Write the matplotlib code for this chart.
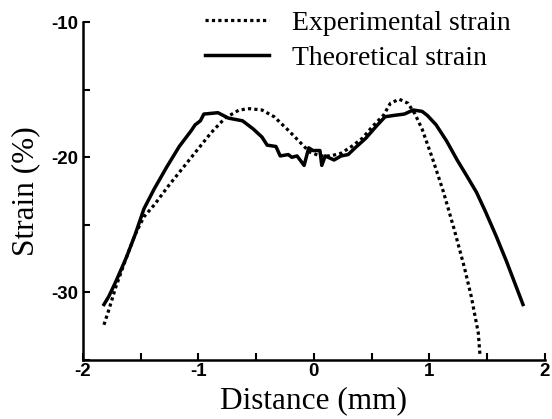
import matplotlib
matplotlib.use("Agg")
import matplotlib.pyplot as plt
from matplotlib.ticker import MultipleLocator

plt.rcParams["axes.unicode_minus"] = False

# theoretical strain (solid)
x_theo = [-1.817, -1.775, -1.714, -1.622, -1.546, -1.47, -1.379, -1.272, -1.165, -1.059,
          -1.028, -0.982, -0.952, -0.83, -0.739, -0.617, -0.525, -0.449, -0.404, -0.328,
          -0.291, -0.221, -0.19, -0.145, -0.084, -0.044, -0.008, 0.053, 0.069, 0.099,
          0.175, 0.236, 0.297, 0.358, 0.449, 0.541, 0.617, 0.693, 0.784, 0.861,
          0.937, 0.983, 1.059, 1.15, 1.241, 1.333, 1.409, 1.485, 1.577, 1.668,
          1.744, 1.811]
y_theo = [-30.9, -30.3, -29.2, -27.4, -25.7, -23.8, -22.3, -20.7, -19.2, -18.0,
          -17.6, -17.3, -16.8, -16.7, -17.1, -17.3, -17.9, -18.5, -19.1, -19.2,
          -19.9, -19.8, -20.0, -19.9, -20.6, -19.3, -19.5, -19.5, -20.6, -19.9,
          -20.2, -19.9, -19.8, -19.3, -18.6, -17.7, -17.0, -16.9, -16.8, -16.5,
          -16.6, -16.9, -17.6, -18.8, -20.2, -21.5, -22.6, -24.0, -25.8, -27.7,
          -29.4, -30.9]

# experimental strain (dotted)
x_exp = [-1.817, -1.775, -1.714, -1.622, -1.546, -1.47, -1.379, -1.257, -1.135, -1.013,
         -0.891, -0.769, -0.647, -0.556, -0.449, -0.343, -0.221, -0.129, -0.038, 0.053,
         0.145, 0.236, 0.327, 0.419, 0.51, 0.602, 0.663, 0.739, 0.815, 0.876,
         0.937, 1.028, 1.12, 1.211, 1.302, 1.363, 1.424, 1.439]
y_exp = [-32.4, -31.3, -29.6, -27.4, -25.7, -24.4, -23.5, -22.1, -20.8, -19.5,
         -18.2, -17.1, -16.5, -16.4, -16.5, -17.0, -18.0, -18.8, -19.6, -19.9,
         -19.9, -19.7, -19.2, -18.6, -17.7, -16.9, -16.0, -15.7, -16.0, -16.8,
         -17.9, -20.1, -22.5, -25.2, -28.1, -30.3, -33.0, -34.7]

xticks = [-2, -1, 0, 1, 2]
xtick_labels = ["-2", "-1", "0", "1", "2"]
yticks = [-10, -20, -30]
ytick_labels = ["-10", "-20", "-30"]

fig = plt.figure(figsize=(5.52, 4.19), dpi=100)
ax = fig.add_axes([0.150, 0.141, 0.837, 0.806])

ax.plot(x_exp, y_exp, color="black", linestyle=(0, (1, 1)), linewidth=2.3,
        dash_capstyle="butt", label="Experimental strain")
ax.plot(x_theo, y_theo, color="black", linestyle="-", linewidth=2.5,
        label="Theoretical strain")

ax.set_xlim(-2, 2)
ax.set_ylim(-35, -10)
tick_font = dict(fontfamily="Liberation Sans", fontweight="bold", fontsize=13.5)
ax.set_xticks(xticks, xtick_labels, **tick_font)
ax.set_yticks(yticks, ytick_labels, **tick_font)
ax.xaxis.set_minor_locator(MultipleLocator(0.5))
ax.yaxis.set_minor_locator(MultipleLocator(5))
ax.tick_params(which="both", direction="in", width=1.5, length=5)
ax.tick_params(axis="x", pad=2)
ax.tick_params(axis="y", pad=3)

ax.spines["top"].set_visible(False)
ax.spines["right"].set_visible(False)
ax.spines["left"].set_linewidth(1.8)
ax.spines["bottom"].set_linewidth(1.8)

ax.set_xlabel("Distance (mm)", fontfamily="Liberation Serif", fontsize=22.5, labelpad=5)
ax.set_ylabel("Strain (%)", fontfamily="Liberation Serif", fontsize=22.5, labelpad=8)

fig.legend(loc="upper left", bbox_to_anchor=(0.336, 1.022), frameon=False,
           prop={"family": "Liberation Serif", "size": 20},
           handlelength=2.3, handletextpad=0.85, labelspacing=0.35, borderpad=0.2)

plt.savefig("out.png", dpi=100)
